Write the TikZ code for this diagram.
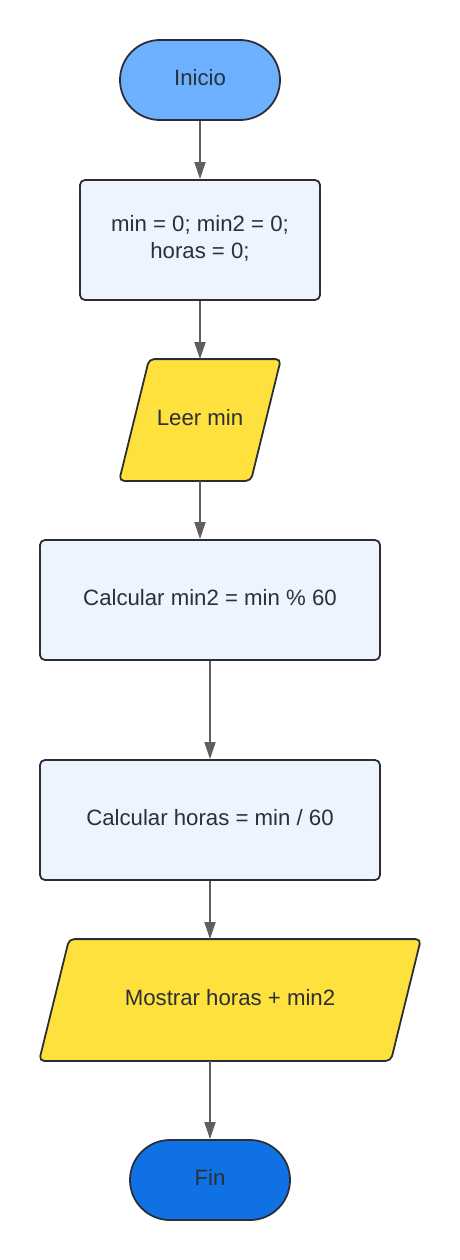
\documentclass[tikz,border=0pt]{standalone}
\usepackage{fontspec}
\setmainfont{Liberation Sans}
\usetikzlibrary{arrows.meta,backgrounds}
\definecolor{startblue}{HTML}{6CB0FF}
\definecolor{endblue}{HTML}{1071E5}
\definecolor{procfill}{HTML}{EEF4FE}
\definecolor{ioyellow}{HTML}{FFE13E}
\definecolor{edge}{HTML}{2B2E35}
\definecolor{arrowgray}{HTML}{5F5F5F}
\definecolor{txt}{HTML}{2B2F36}
\tikzset{
  base/.style={text=txt, font=\fontsize{22.2pt}{27pt}\selectfont, align=center, line width=1.8pt, text depth=6pt},
  term/.style={base, draw=edge, rounded corners=40pt, minimum width=160pt, minimum height=80pt},
  procbox/.style={base, draw=edge, fill=procfill, rounded corners=5pt, minimum height=120pt},
  iobox/.style={base, minimum height=120pt},
  ioshape/.style={draw=edge, fill=ioyellow, line width=1.8pt, rounded corners=5pt},
  conn/.style={draw=arrowgray, line width=1.8pt, -{Triangle[length=17pt,width=11pt]}}
}
\begin{document}
\begin{tikzpicture}[x=1pt,y=-1pt]
\useasboundingbox (0,0) rectangle (460,1260);
\node[term, fill=startblue] (ini) at (200,80) {Inicio};
\node[procbox, minimum width=240pt] (b1) at (200,240) {min = 0; min2 = 0;\\horas = 0;};
\node[iobox, minimum width=130pt] (leer) at (200,420) {Leer min};
\node[procbox, minimum width=340pt] (c1) at (210,600) {Calcular min2 = min \% 60};
\node[procbox, minimum width=340pt] (c2) at (210,820) {Calcular horas = min / 60};
\node[iobox, minimum width=350pt] (most) at (230,1000) {Mostrar horas + min2};
\node[term, fill=endblue] (fin) at (210,1180) {Fin};
\begin{scope}[on background layer]
\path[ioshape] ([xshift=15pt]leer.north west) -- ([xshift=15pt]leer.north east) -- ([xshift=-15pt]leer.south east) -- ([xshift=-15pt]leer.south west) -- cycle;
\path[ioshape] ([xshift=15pt]most.north west) -- ([xshift=15pt]most.north east) -- ([xshift=-15pt]most.south east) -- ([xshift=-15pt]most.south west) -- cycle;
\end{scope}
\draw[conn] (ini.south) -- (b1.north);
\draw[conn] (b1.south) -- (leer.north);
\draw[conn] (leer.south) -- (leer.south |- c1.north);
\draw[conn] (c1.south) -- (c2.north);
\draw[conn] (c2.south) -- (c2.south |- most.north);
\draw[conn] (fin.north |- most.south) -- (fin.north);
\end{tikzpicture}
\end{document}
